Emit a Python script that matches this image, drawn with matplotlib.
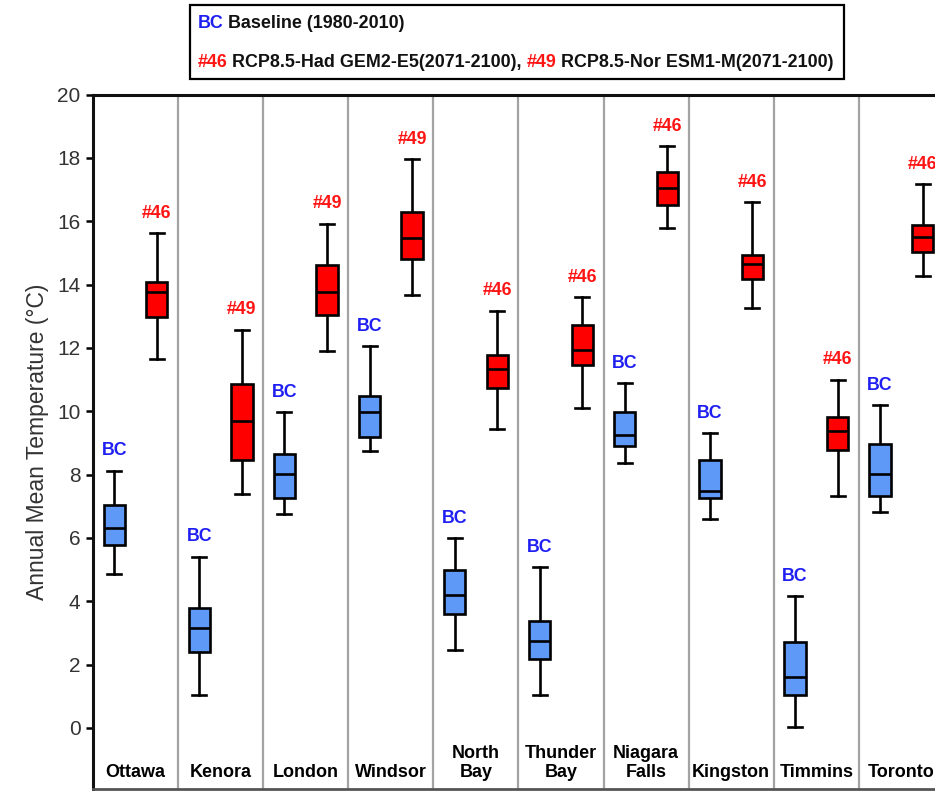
import matplotlib
matplotlib.use("Agg")
import matplotlib.pyplot as plt
from matplotlib.patches import Rectangle

plt.rcParams["font.family"] = ["Liberation Sans", "DejaVu Sans"]

# === Data (annual mean temperature, °C) ===
cities = ["Ottawa", "Kenora", "London", "Windsor", "North\nBay", "Thunder\nBay",
          "Niagara\nFalls", "Kingston", "Timmins", "Toronto"]

# baseline 1980-2010
bc_whislo = [4.86, 1.04, 6.75, 8.75, 2.46, 1.03, 8.35, 6.61, 0.02, 6.83]
bc_q1     = [5.77, 2.40, 7.26, 9.20, 3.60, 2.19, 8.89, 7.26, 1.04, 7.33]
bc_med    = [6.32, 3.14, 8.02, 9.96, 4.20, 2.73, 9.26, 7.47, 1.61, 8.03]
bc_q3     = [7.03, 3.80, 8.66, 10.47, 4.99, 3.39, 9.97, 8.47, 2.71, 8.96]
bc_whishi = [8.12, 5.41, 9.97, 12.05, 5.99, 5.07, 10.89, 9.31, 4.15, 10.20]

# RCP8.5 2071-2100, model picked per city
fut_model  = ["#46", "#49", "#49", "#49", "#46", "#46", "#46", "#46", "#46", "#46"]
fut_whislo = [11.65, 7.39, 11.89, 13.66, 9.44, 10.10, 15.79, 13.27, 7.33, 14.26]
fut_q1     = [12.99, 8.47, 13.05, 14.82, 10.73, 11.45, 16.52, 14.18, 8.76, 15.03]
fut_med    = [13.78, 9.68, 13.78, 15.47, 11.33, 11.92, 17.05, 14.66, 9.36, 15.50]
fut_q3     = [14.09, 10.86, 14.63, 16.28, 11.77, 12.73, 17.55, 14.93, 9.82, 15.88]
fut_whishi = [15.63, 12.58, 15.92, 17.95, 13.18, 13.61, 18.37, 16.60, 11.00, 17.16]

BC_FACE = "#5f99f7"
FUT_FACE = "#ff0000"
BC_TXT = "#1f1ff2"
FUT_TXT = "#ff1414"


def make_stats(lo, q1, med, q3, hi):
    return [dict(whislo=a, q1=b, med=c, q3=d, whishi=e, fliers=[])
            for a, b, c, d, e in zip(lo, q1, med, q3, hi)]


fig = plt.figure(figsize=(9.35, 7.91), dpi=100)
ax = fig.add_axes([0.0995, 0.0025, 0.910, 0.878])

n = len(cities)
bc_pos = [i + 0.25 for i in range(n)]
fut_pos = [i + 0.75 for i in range(n)]

line_kw = dict(color="black", linewidth=1.9)
for stats, pos, face in [
    (make_stats(bc_whislo, bc_q1, bc_med, bc_q3, bc_whishi), bc_pos, BC_FACE),
    (make_stats(fut_whislo, fut_q1, fut_med, fut_q3, fut_whishi), fut_pos, FUT_FACE),
]:
    res = ax.bxp(stats, positions=pos, widths=0.25, capwidths=0.165,
                 patch_artist=True, showfliers=False,
                 boxprops=dict(facecolor=face, edgecolor="black", linewidth=1.9),
                 whiskerprops=line_kw, capprops=line_kw, medianprops=line_kw,
                 manage_ticks=False)
    for b in res["boxes"]:
        b.set_zorder(3)
    for m in res["medians"]:
        m.set_zorder(4)

# labels above the upper whisker
for i in range(n):
    ax.annotate("BC", (bc_pos[i], bc_whishi[i]), xytext=(0, 11),
                textcoords="offset points", ha="center", va="baseline",
                color=BC_TXT, fontsize=12.8, fontweight="bold")
    ax.annotate(fut_model[i], (fut_pos[i], fut_whishi[i]), xytext=(0, 11),
                textcoords="offset points", ha="center", va="baseline",
                color=FUT_TXT, fontsize=12.8, fontweight="bold", annotation_clip=False)
    ax.text(i + 0.5, -1.67, cities[i], ha="center", va="bottom",
            fontsize=13, fontweight="bold", linespacing=1.15)

# city separators
for i in range(1, n):
    ax.axvline(i, color="#a3a3a3", linewidth=1.6, zorder=1)

ax.set_xlim(0, n)
ax.set_ylim(-1.93, 20)
ax.set_xticks([])
ax.set_yticks(range(0, 21, 2))
ax.tick_params(axis="y", direction="out", length=5, width=1.8,
               labelsize=15, labelcolor="#333333", pad=4)
for side in ["left", "top"]:
    ax.spines[side].set_color("#111111")
    ax.spines[side].set_linewidth(2.2)
ax.spines["bottom"].set_color("#555555")
ax.spines["bottom"].set_linewidth(2.0)
ax.spines["right"].set_visible(False)
ax.set_ylabel("Annual Mean Temperature (°C)", fontsize=16.5, color="#333333", labelpad=6)

# === Legend box ===
W, H = 935.0, 791.0
fig.add_artist(Rectangle((190 / W, 1 - 79 / H), (844 - 190) / W, 74 / H,
                         transform=fig.transFigure, fill=False,
                         edgecolor="black", linewidth=1.6))

leg_kw = dict(fontsize=12.9, fontweight="bold")
t = fig.text(197.5 / W, 1 - 28.5 / H, "BC", color=BC_TXT, va="baseline", **leg_kw)
ax.annotate(" Baseline (1980-2010)", xy=(1, 0), xycoords=t, va="bottom",
            color="#111111", annotation_clip=False, **leg_kw)

t = fig.text(197.5 / W, 1 - 67 / H, "#46", color=FUT_TXT, va="baseline", **leg_kw)
t = ax.annotate(" RCP8.5-Had GEM2-E5(2071-2100), ", xy=(1, 0), xycoords=t,
                va="bottom", color="#111111", annotation_clip=False, **leg_kw)
t = ax.annotate("#49", xy=(1, 0), xycoords=t, va="bottom", color=FUT_TXT,
                annotation_clip=False, **leg_kw)
ax.annotate(" RCP8.5-Nor ESM1-M(2071-2100)", xy=(1, 0), xycoords=t, va="bottom",
            color="#111111", annotation_clip=False, **leg_kw)

fig.savefig("out.png", dpi=100)
